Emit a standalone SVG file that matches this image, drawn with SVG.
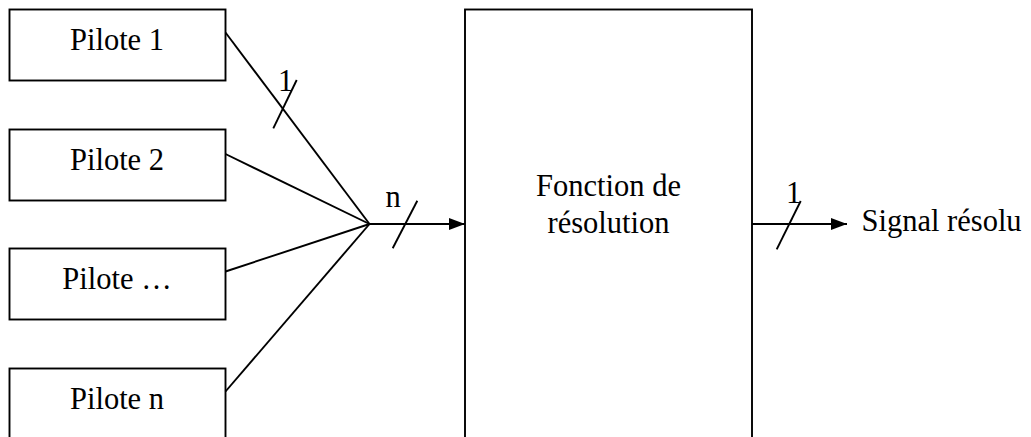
<svg xmlns="http://www.w3.org/2000/svg" width="1031" height="437" viewBox="0 0 1031 437">
  <style>
    .box { fill: #ffffff; stroke: #000000; stroke-width: 1.9; }
    .wire { fill: none; stroke: #000000; stroke-width: 1.9; }
    .lbl { font-family: "Liberation Serif", "Times New Roman", serif; font-size: 30.5px; fill: #000000; }
    .mid { text-anchor: middle; }
  </style>
  <defs>
    <marker id="arrow" markerUnits="userSpaceOnUse" markerWidth="17" markerHeight="13" refX="16" refY="6.5" orient="auto">
      <path d="M0,0.5 L16,6.5 L0,12.5 Z" fill="#000000"/>
    </marker>
  </defs>
  <rect width="1031" height="437" fill="#ffffff"/>

  <!-- drivers -->
  <g id="pilote-1">
    <rect class="box" x="9.5" y="9.5" width="216" height="71"/>
    <text class="lbl mid" x="117" y="49.5">Pilote 1</text>
  </g>
  <g id="pilote-2">
    <rect class="box" x="9.5" y="129.5" width="216" height="71"/>
    <text class="lbl mid" x="117" y="169.5">Pilote 2</text>
  </g>
  <g id="pilote-etc">
    <rect class="box" x="9.5" y="248.5" width="216" height="71"/>
    <text class="lbl mid" x="117" y="288.5">Pilote …</text>
  </g>
  <g id="pilote-n">
    <rect class="box" x="9.5" y="368.5" width="216" height="71"/>
    <text class="lbl mid" x="117" y="408.5">Pilote n</text>
  </g>

  <!-- resolution function block -->
  <g id="fonction-resolution">
    <rect class="box" x="465" y="9.5" width="287" height="440"/>
    <text class="lbl mid" x="608.5" y="195.5">Fonction de</text>
    <text class="lbl mid" x="608.5" y="232.5">résolution</text>
  </g>

  <!-- output label -->
  <g id="signal-resolu">
    <text class="lbl" x="861.5" y="231">Signal résolu</text>
  </g>

  <!-- connectors and bus-width marks -->
  <g id="connectors">
    <line class="wire" x1="225.5" y1="32.5" x2="369.5" y2="224"/>
    <line class="wire" x1="225.5" y1="154" x2="369.5" y2="224"/>
    <line class="wire" x1="225.5" y1="271.5" x2="369.5" y2="224"/>
    <line class="wire" x1="225.5" y1="391.5" x2="369.5" y2="224"/>
    <line class="wire" x1="369.5" y1="224" x2="465" y2="224" marker-end="url(#arrow)"/>
    <line class="wire" x1="752" y1="224" x2="847" y2="224" marker-end="url(#arrow)"/>

    <line class="wire" x1="273.3" y1="128.3" x2="296.7" y2="80"/>
    <text class="lbl" x="278" y="90.5">1</text>

    <line class="wire" x1="392.7" y1="248.3" x2="417.3" y2="200.7"/>
    <text class="lbl" x="385.5" y="206.5">n</text>

    <line class="wire" x1="776.7" y1="249.3" x2="800.7" y2="201"/>
    <text class="lbl" x="786" y="202.5">1</text>
  </g>
</svg>
